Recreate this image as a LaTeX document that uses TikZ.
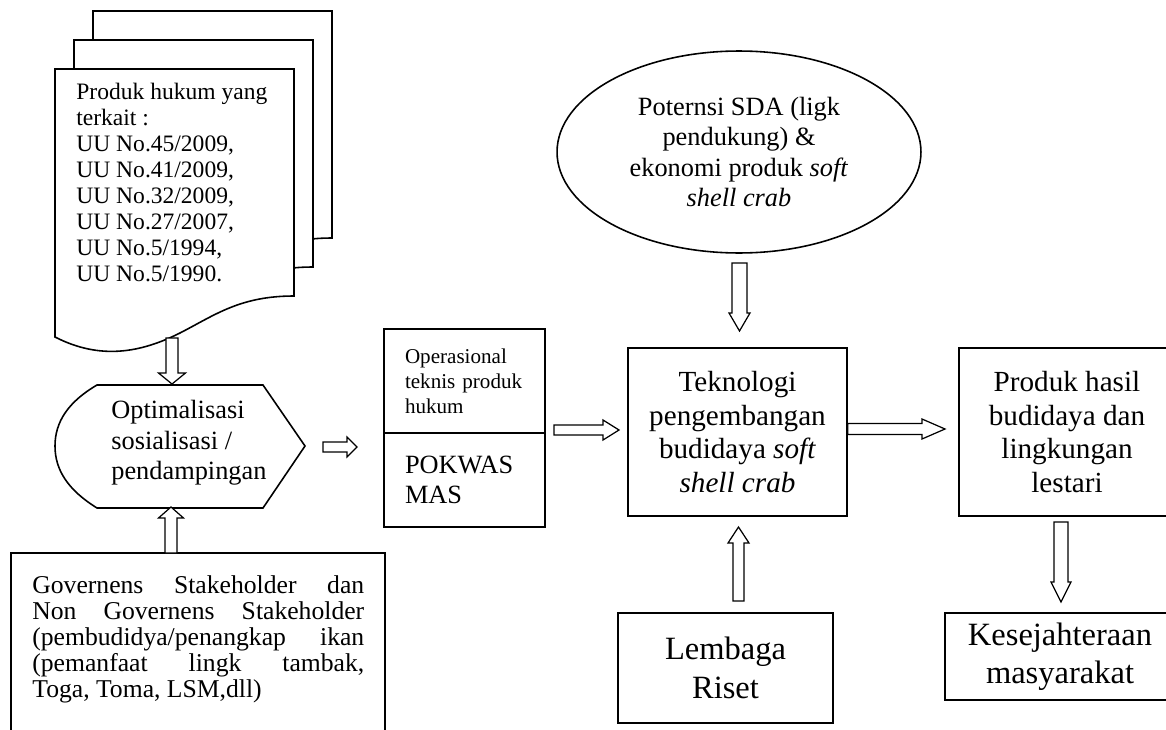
\documentclass[tikz,border=0pt]{standalone}
\usepackage{fontspec}
\setmainfont{Liberation Serif}
\usetikzlibrary{calc,shapes.geometric}

% hollow block arrow: from, to, shaft half width, head half width, head length
\newcommand{\blockarrow}[5]{%
  \coordinate (ba) at ($(#2)!#5!(#1)$);
  \draw[hollow] ($(#1)!#3!90:(#2)$) -- ($(ba)!#3!-90:(#1)$) -- ($(ba)!#4!-90:(#1)$) -- (#2)
    -- ($(ba)!#4!90:(#1)$) -- ($(ba)!#3!90:(#1)$) -- ($(#1)!#3!-90:(#2)$) -- cycle;
}
\newcommand{\nohyph}{\hyphenpenalty=10000 \exhyphenpenalty=10000 }

\begin{document}
\begin{tikzpicture}[x=0.02cm,y=-0.02cm,
  outline/.style={draw=black,line width=0.9pt},
  hollow/.style={draw=black,line width=0.7pt,fill=white,line join=miter},
  box/.style={outline,rectangle,inner sep=0pt,align=center},
  fsmall/.style={font=\fontsize{12pt}{14.2pt}\selectfont},
  fdoc/.style={font=\fontsize{13.4pt}{14.8pt}\selectfont},
  fgov/.style={font={\fontsize{14.6pt}{14.9pt}\selectfont\nohyph}},
  fmid/.style={font=\fontsize{15pt}{17.4pt}\selectfont},
  fbig/.style={font=\fontsize{16.6pt}{19.2pt}\selectfont},
  fhuge/.style={font=\fontsize{18.5pt}{21.8pt}\selectfont}]
\useasboundingbox (0,0) rectangle (1166,730);

% stacked documents
\foreach \dx/\dy in {38/-58,19/-29,0/0}{
  \begin{scope}[shift={(\dx,\dy)}]
    \draw[outline,fill=white] (55,69) -- (294,69) -- (294,296)
      .. controls (240,296) and (215,315) .. (180,333)
      .. controls (140,353) and (100,360) .. (55,337) -- cycle;
  \end{scope}
}
\node[fdoc,anchor=north west,inner sep=0pt,align=left] (doc) at (76,83)
  {Produk hukum yang\\terkait :\\UU No.45/2009,\\UU No.41/2009,\\UU No.32/2009,\\UU No.27/2007,\\UU No.5/1994,\\UU No.5/1990.};

% display shape
\draw[outline] (97,385) -- (263,385) -- (305,446) -- (263,508) -- (97,508)
  .. controls (68,490) and (55,470) .. (55,446)
  .. controls (55,422) and (68,402) .. (97,385) -- cycle;
\node[fmid,anchor=west,inner sep=0pt,align=left] (opt) at (111,443)
  {Optimalisasi\\sosialisasi /\\pendampingan};

% stakeholder box
\draw[outline] (11,553) rectangle (385,760);
\node[fgov,anchor=north west,inner sep=0pt,text width=6.64cm,align=justify] (gov) at (32,575)
  {Governens Stakeholder dan\linebreak Non Governens Stakeholder\linebreak (pembudidya/penangkap ikan\linebreak (pemanfaat lingk tambak,\linebreak Toga, Toma, LSM,dll)};

% operasional / pokwasmas
\node[box,fsmall,minimum width=3.22cm,minimum height=2.08cm,text width=2.38cm,
  inner xsep=0.42cm,align=left] (ops) at (464.5,381) {Operasional\\teknis produk\\hukum};
\node[box,fmid,minimum width=3.22cm,minimum height=1.88cm,text width=2.38cm,
  inner xsep=0.42cm,align=left] (pokwas) at (464.5,480) {POKWAS\\MAS};

% right part
\node[outline,ellipse,fmid,minimum width=7.28cm,minimum height=4.04cm,inner sep=0pt,align=center]
  (sda) at (739,152) {Poternsi SDA (ligk\\pendukung) \&\\ekonomi produk \textit{soft}\\\textit{shell crab}};
\node[box,fbig,minimum width=4.38cm,minimum height=3.36cm] (tekn) at (737.5,432)
  {Teknologi\\pengembangan\\budidaya \textit{soft}\\\textit{shell crab}};
\node[box,fbig,minimum width=4.32cm,minimum height=3.36cm] (hasil) at (1067,432)
  {Produk hasil\\budidaya dan\\lingkungan\\lestari};
\node[box,fhuge,minimum width=4.3cm,minimum height=2.2cm] (riset) at (725.5,668)
  {Lembaga\\Riset};
\node[box,fhuge,minimum width=4.6cm,minimum height=1.74cm] (sejah) at (1060,656.5)
  {Kesejahteraan\\masyarakat};

% arrow ends
\coordinate (docout) at (172,338);
\coordinate (optin) at (172,384);
\coordinate (govout) at (171,553);
\coordinate (optup) at (171,507);
\coordinate (optout) at (323,447);
\coordinate (opsin) at (357,447);
\coordinate (opsout) at (554,430);
\coordinate (teknin) at (619,430);
\coordinate (teknout) at (tekn.east |- 0,429);
\coordinate (hasilin) at (945,429);
\coordinate (sdaout) at (739.5,263);
\coordinate (tekntop) at (739.5,331);
\coordinate (risetout) at (738.5,601);
\coordinate (teknbot) at (738.5,527);
\coordinate (hasilout) at (1061,522);
\coordinate (sejahin) at (1061,602);

\blockarrow{docout}{optin}{0.12cm}{0.27cm}{0.22cm}
\blockarrow{govout}{optup}{0.12cm}{0.25cm}{0.22cm}
\blockarrow{optout}{opsin}{0.10cm}{0.20cm}{0.20cm}
\blockarrow{opsout}{teknin}{0.10cm}{0.20cm}{0.32cm}
\blockarrow{teknout}{hasilin}{0.11cm}{0.20cm}{0.46cm}
\blockarrow{sdaout}{tekntop}{0.15cm}{0.21cm}{0.36cm}
\blockarrow{risetout}{teknbot}{0.11cm}{0.21cm}{0.32cm}
\blockarrow{hasilout}{sejahin}{0.14cm}{0.20cm}{0.40cm}
\end{tikzpicture}
\end{document}
